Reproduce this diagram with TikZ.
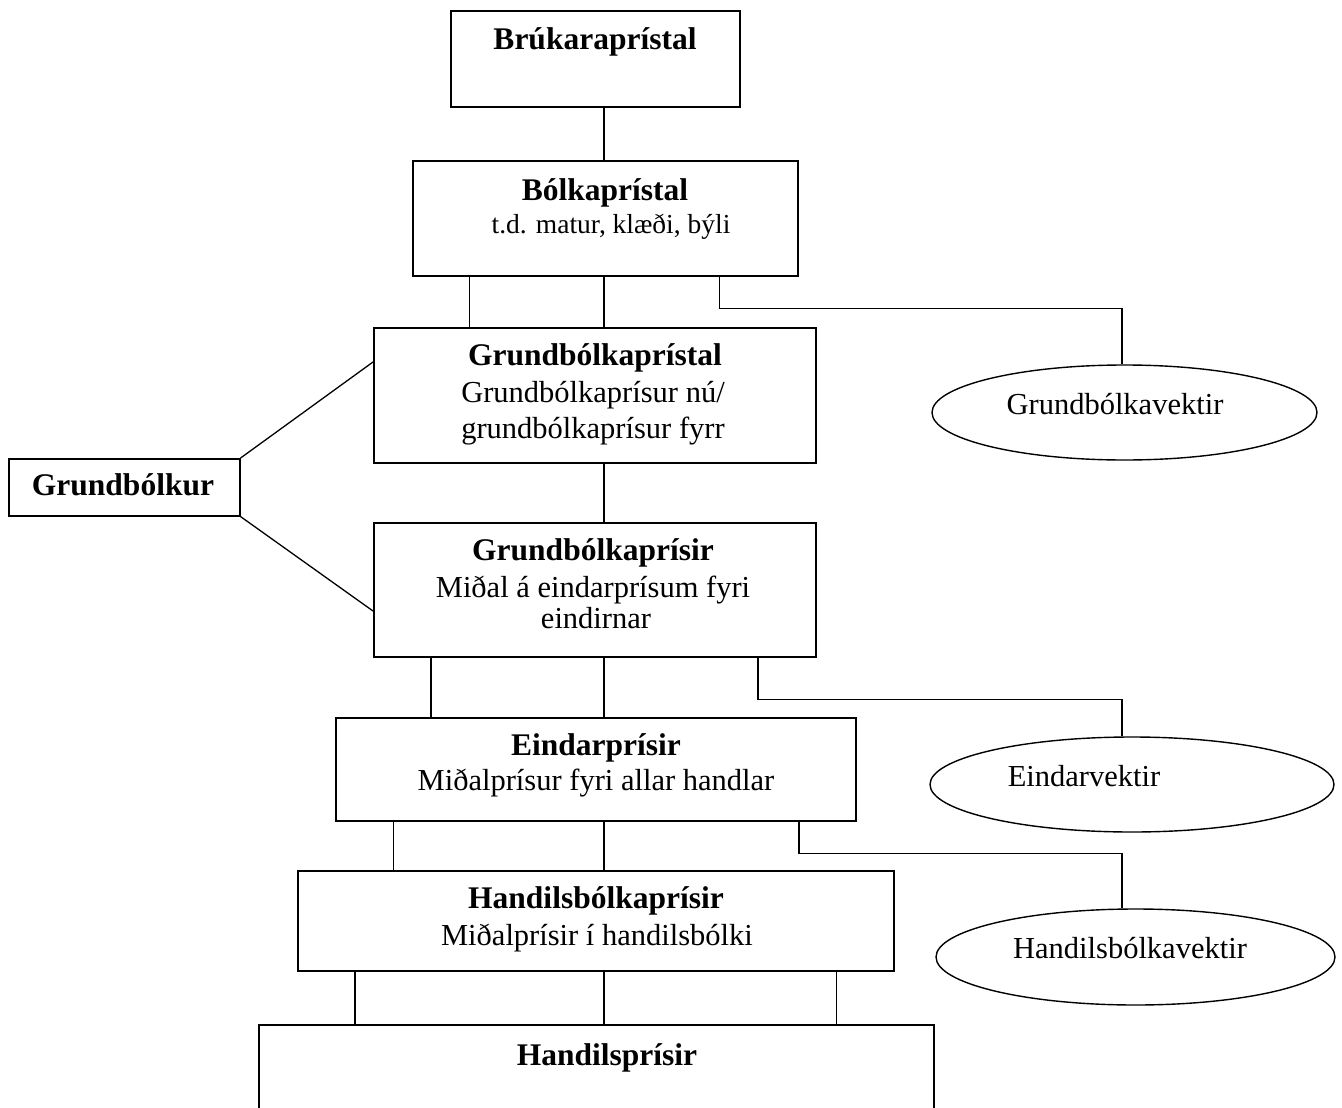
\documentclass[tikz,border=0pt]{standalone}
\usepackage{fontspec}
\setmainfont{Liberation Serif}
\usetikzlibrary{shapes.geometric}
\begin{document}
\begin{tikzpicture}[x=1pt,y=-1pt,
  box/.style={draw, line width=1.6pt, rectangle, inner sep=0pt, anchor=north west},
  ell/.style={draw, line width=1.4pt, ellipse, inner sep=0pt},
  ln/.style={line width=1.3pt},
  bt/.style={anchor=base, inner sep=0pt, font=\fontsize{31.5}{36}\selectfont\bfseries},
  rt/.style={anchor=base, inner sep=0pt, font=\fontsize{30.5}{36}\selectfont},
  st/.style={anchor=base, inner sep=0pt, font=\fontsize{27.5}{32}\selectfont}]
\useasboundingbox (0,0) rectangle (1342,1108);
\clip (0,0) rectangle (1342,1108);
\coordinate (spine) at (604,0);
\coordinate (vx) at (1122,0);
% boxes
\node[box, minimum width=289pt, minimum height=96pt] (b1) at (450,10) {};
\node[box, minimum width=385pt, minimum height=115pt] (b2) at (412,160) {};
\node[box, minimum width=442pt, minimum height=135pt] (b3) at (373,327) {};
\node[box, minimum width=231pt, minimum height=57pt] (gk) at (8,458) {};
\node[box, minimum width=442pt, minimum height=134pt] (b4) at (373,522) {};
\node[box, minimum width=520pt, minimum height=103pt] (b5) at (335,717) {};
\node[box, minimum width=596pt, minimum height=100pt] (b6) at (297,870) {};
\node[box, minimum width=675pt, minimum height=140pt] (b7) at (258,1024) {};
% ellipses
\node[ell, minimum width=385pt, minimum height=95pt] (e1) at (1124.5,412.5) {};
\node[ell, minimum width=404pt, minimum height=95pt] (e2) at (1132,784.5) {};
\node[ell, minimum width=399pt, minimum height=96pt] (e3) at (1135.5,957) {};
% texts
\node[bt] (t1) at (595,50) {Brúkaraprístal};
\node[bt] (t2a) at (605,200) {Bólkaprístal};
\node[st] (t2b) at (611,233) {t.d. matur, klæði, býli};
\node[bt] (t3a) at (595,365) {Grundbólkaprístal};
\node[rt] (t3b) at (593,402) {Grundbólkaprísur nú/};
\node[rt] (t3c) at (593,438) {grundbólkaprísur fyrr};
\node[bt] (tgk) at (123,495) {Grundbólkur};
\node[bt] (t4a) at (593,560) {Grundbólkaprísir};
\node[rt] (t4b) at (593,597) {Miðal á eindarprísum fyri};
\node[rt] (t4c) at (596,628) {eindirnar};
\node[bt] (t5a) at (596,755) {Eindarprísir};
\node[rt] (t5b) at (596,790) {Miðalprísur fyri allar handlar};
\node[bt] (t6a) at (596,908) {Handilsbólkaprísir};
\node[rt] (t6b) at (597,945) {Miðalprísir í handilsbólki};
\node[bt] (t7) at (607,1065) {Handilsprísir};
\node[rt] (te1) at (1115,414) {Grundbólkavektir};
\node[rt] (te2) at (1084,786) {Eindarvektir};
\node[rt] (te3) at (1130,958) {Handilsbólkavektir};
% connectors
\draw[ln] (b1.south -| spine) -- (b2.north -| spine);
\draw[ln] (b2.south -| spine) -- (b3.north -| spine);
\draw[ln] ([xshift=-135.5pt]b2.south) -- ([xshift=-135.5pt]b2.south |- b3.north);
\draw[ln] ([xshift=114.5pt]b2.south) -- ++(0,32) -| (e1.north -| vx);
\draw[ln] (gk.north east) -- ([yshift=-35pt]b3.north west);
\draw[ln] (gk.south east) -- ([yshift=-89pt]b4.north west);
\draw[ln] (b3.south -| spine) -- (b4.north -| spine);
\draw[ln] (b4.south -| spine) -- (b5.north -| spine);
\draw[ln] ([xshift=58pt]b4.south west) -- ([xshift=58pt]b4.south west |- b5.north);
\draw[ln] ([xshift=385pt]b4.south west) -- ++(0,42) -| (e2.north -| vx);
\draw[ln] (b5.south -| spine) -- (b6.north -| spine);
\draw[ln] ([xshift=58.5pt]b5.south west) -- ([xshift=58.5pt]b5.south west |- b6.north);
\draw[ln] ([xshift=464pt]b5.south west) -- ++(0,32) -| (e3.north -| vx);
\draw[ln] (b6.south -| spine) -- (b7.north -| spine);
\draw[ln] ([xshift=58pt]b6.south west) -- ([xshift=58pt]b6.south west |- b7.north);
\draw[ln] ([xshift=539.5pt]b6.south west) -- ([xshift=539.5pt]b6.south west |- b7.north);
\end{tikzpicture}
\end{document}
